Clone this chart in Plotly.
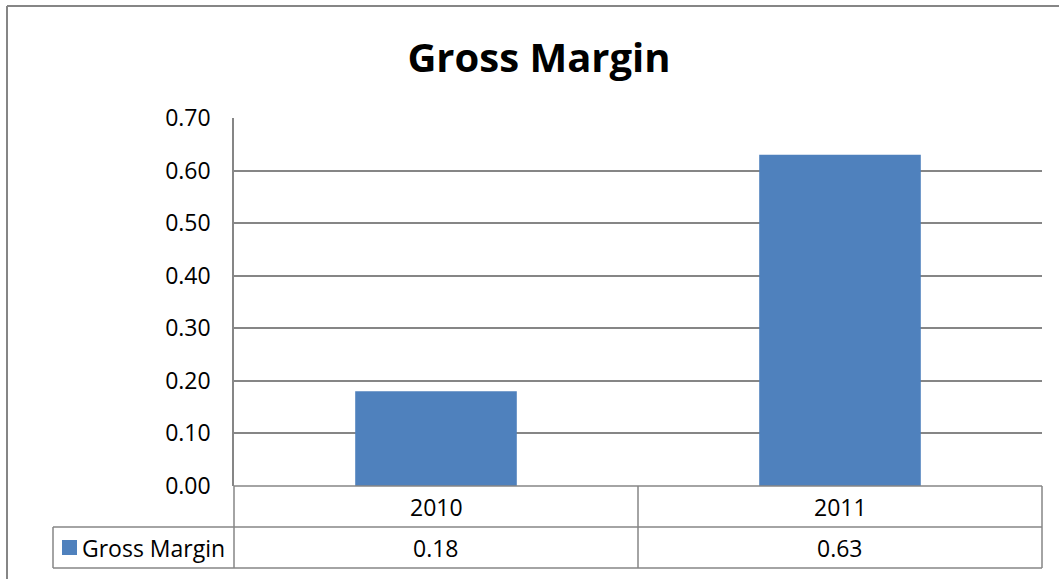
import plotly.graph_objects as go

categories = ["2010", "2011"]
gross_margin = [0.18, 0.63]
series_name = "Gross Margin"
title_text = "Gross Margin"
y_ticks = [0.0, 0.1, 0.2, 0.3, 0.4, 0.5, 0.6, 0.7]

W, H = 1059, 579
L, R, T, B = 234, 1042, 118, 486  # plot area in pixels
BAR_COLOR = "#4F81BD"
LINE_COLOR = "#868686"
FONT = "Open Sans"
TXT = 23


def px(xp):
    return (xp - L) / (R - L)


def py(yp):
    return (B - yp) / (B - T)


fig = go.Figure()
fig.add_trace(go.Bar(
    x=categories, y=gross_margin, name=series_name,
    marker=dict(color=BAR_COLOR, line=dict(width=0)),
    width=0.4, showlegend=False,
))

shapes = []


def line(x0, y0, x1, y1, w=1.5):
    shapes.append(dict(type="line", xref="paper", yref="paper",
                       x0=px(x0), y0=py(y0), x1=px(x1), y1=py(y1),
                       line=dict(color=LINE_COLOR, width=w)))


# outer chart border
line(7, 6, 1062, 6, 2)
line(7, 6, 7, 585, 2)

# data table
row1_bot, row2_bot = 527, 568
mid = (L + R) / 2
line(L, B, R, B)
line(53, row1_bot, R, row1_bot)
line(53, row2_bot, R, row2_bot)
line(53, row1_bot, 53, row2_bot)
line(L, B, L, row2_bot)
line(R, B, R, row2_bot)
line(mid, B, mid, row2_bot)

# legend key
shapes.append(dict(type="rect", xref="paper", yref="paper",
                   x0=px(62), x1=px(77), y0=py(555), y1=py(540),
                   fillcolor=BAR_COLOR, line=dict(width=0)))

annotations = []
for i, (c, v) in enumerate(zip(categories, gross_margin)):
    annotations.append(dict(x=i, xref="x", y=py((B + row1_bot) / 2), yref="paper",
                            text=c, showarrow=False, xanchor="center", yanchor="middle",
                            font=dict(family=FONT, size=TXT, color="black")))
    annotations.append(dict(x=i, xref="x", y=py((row1_bot + row2_bot) / 2), yref="paper",
                            text=f"{v:.2f}", showarrow=False, xanchor="center", yanchor="middle",
                            font=dict(family=FONT, size=TXT, color="black")))
annotations.append(dict(x=px(80), xref="paper", y=py((row1_bot + row2_bot) / 2), yref="paper",
                        text=series_name, showarrow=False, xanchor="left", yanchor="middle",
                        font=dict(family=FONT, size=TXT, color="black")))

fig.update_layout(
    width=W, height=H,
    margin=dict(l=L, r=W - R, t=T, b=H - B, pad=0),
    paper_bgcolor="white", plot_bgcolor="white",
    title=dict(text=f"<b>{title_text}</b>", x=539 / W, xref="container", xanchor="center",
               y=1 - 58 / H, yref="container", yanchor="middle",
               font=dict(family=FONT, size=40, color="black")),
    xaxis=dict(type="category", range=[-0.5, 1.5], showticklabels=False, showgrid=False,
               zeroline=False, showline=False, ticks=""),
    yaxis=dict(range=[0, 0.7], tickvals=y_ticks, tickformat=".2f",
               showgrid=True, gridcolor=LINE_COLOR, gridwidth=1.5,
               showline=True, linecolor=LINE_COLOR, linewidth=1.5,
               zeroline=False, ticks="", ticklabelstandoff=17,
               tickfont=dict(family=FONT, size=TXT, color="black")),
    shapes=shapes, annotations=annotations,
)

fig.write_html("out.html", config={"displayModeBar": False},
               post_script="document.body.style.margin='0';")
